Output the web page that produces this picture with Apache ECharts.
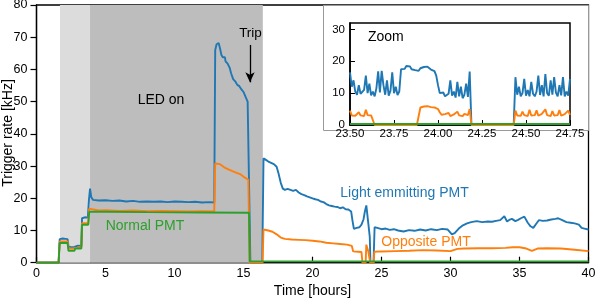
<!DOCTYPE html>
<html><head><meta charset="utf-8">
<script src="https://cdn.jsdelivr.net/npm/echarts@6/dist/echarts.min.js"></script>
<style>html,body{margin:0;padding:0;background:#fff}#c{width:596px;height:298px}</style>
</head><body><div id="c"></div>
<script>
// ---------- DATA ----------
// main panel: [time (hours), trigger rate (kHz)]
const lightPMT = [[0,0],[1.6,0],[1.68,7.3],[1.9,7.5],[2.1,7.4],[2.25,7.3],[2.32,5.0],[2.5,4.8],[2.75,4.9],[2.8,5.3],[3.0,5.3],[3.25,5.2],[3.3,13.8],[3.5,14.1],[3.72,14.0],[3.8,19.5],[3.88,23.0],[3.97,20.3],[4.1,19.5],[4.5,19.3],[5,19.4],[5.5,19.2],[6,19.3],[6.5,19.0],[7,19.2],[7.5,18.9],[8,19.0],[8.5,18.9],[9,19.0],[9.5,18.8],[10,19.0],[10.5,18.9],[11,18.8],[11.5,18.9],[12,18.7],[12.5,18.8],[12.88,18.7],[12.95,66.0],[13.05,67.8],[13.2,68.2],[13.3,66.5],[13.4,64.5],[13.5,63.8],[13.6,63.2],[13.65,63.8],[13.7,62.5],[13.85,61.8],[14.0,60.5],[14.1,58.8],[14.25,57.0],[14.4,56.3],[14.55,55.2],[14.7,54.8],[14.85,53.8],[15.0,53.0],[15.15,51.5],[15.3,50.0],[15.42,49.7],[15.5,0],[16.36,0],[16.45,32.4],[16.6,32.0],[16.8,31.4],[17.0,31.0],[17.2,30.6],[17.4,29.8],[17.55,27.5],[17.7,24.8],[17.85,23.0],[18.0,22.6],[18.2,22.9],[18.4,22.6],[18.6,22.3],[18.8,22.6],[19.0,21.8],[19.2,21.3],[19.4,21.0],[19.6,20.6],[19.8,20.3],[20.0,20.0],[20.2,19.7],[20.4,19.5],[20.6,19.0],[20.8,18.8],[21.0,18.2],[21.2,17.8],[21.4,17.6],[21.6,17.4],[21.8,17.3],[22.0,16.9],[22.2,17.2],[22.4,16.6],[22.6,16.5],[22.8,15.9],[22.9,13.0],[23.0,10.5],[23.2,10.8],[23.4,11.0],[23.55,11.8],[23.7,13.5],[23.8,16.0],[23.9,17.8],[23.95,17.5],[24.05,12.0],[24.15,8.0],[24.2,0],[24.42,0],[24.5,11.0],[24.7,10.8],[25.0,10.4],[25.3,10.6],[25.6,10.2],[25.9,10.4],[26.2,10.0],[26.6,9.7],[27.0,10.1],[27.4,9.9],[27.8,10.3],[28.2,10.0],[28.6,10.4],[29.0,10.1],[29.4,10.5],[29.8,10.3],[30.1,8.8],[30.3,9.2],[30.6,10.6],[30.9,11.6],[31.2,12.2],[31.5,12.6],[31.9,12.9],[32.3,12.6],[32.7,12.8],[33.0,12.7],[33.3,13.0],[33.6,13.2],[33.9,14.4],[34.1,12.8],[34.3,13.4],[34.45,13.6],[34.7,12.9],[34.9,13.3],[35.1,13.8],[35.35,14.3],[35.6,12.4],[35.8,11.3],[36.0,10.8],[36.2,12.0],[36.4,13.2],[36.7,13.0],[37.0,13.1],[37.3,13.4],[37.6,13.6],[37.8,13.8],[38.1,13.2],[38.4,12.6],[38.7,12.4],[39.0,12.2],[39.3,11.8],[39.5,10.8],[39.7,10.6],[40,10.3]];
const oppositePMT = [[0,0],[1.6,0],[1.68,6.6],[2.25,6.6],[2.32,4.4],[2.75,4.4],[2.8,4.9],[3.25,4.9],[3.3,12.3],[3.75,12.3],[3.82,16.8],[3.92,16.4],[4.5,16.2],[5,16.3],[6,16.1],[7,16.2],[8,16.0],[9,16.1],[10,16.0],[11,15.9],[12,16.0],[12.88,15.9],[12.95,30.8],[13.05,31.3],[13.3,30.6],[13.6,29.6],[13.9,29.0],[14.2,28.4],[14.5,27.9],[14.8,27.4],[15.1,26.4],[15.35,25.8],[15.4,25.6],[15.45,0],[16.38,0],[16.45,10.3],[16.8,10.0],[17.1,9.6],[17.4,8.8],[17.7,7.8],[18.0,7.4],[18.5,7.2],[19.0,7.1],[19.5,7.0],[20.0,6.8],[20.5,6.6],[21.0,6.2],[21.5,6.0],[22.0,5.8],[22.5,5.6],[22.85,5.2],[22.95,3.5],[23.3,3.4],[23.55,3.3],[23.62,0],[23.85,0],[23.9,5.6],[24.0,5.5],[24.05,3.4],[24.15,3.3],[24.18,0],[24.43,0],[24.48,3.4],[25,3.5],[26,3.6],[27,3.7],[28,3.9],[29,3.8],[30,3.6],[30.5,4.3],[31,4.4],[32,4.5],[33,4.5],[34,4.6],[34.5,4.8],[35,4.8],[35.5,4.4],[35.9,3.7],[36.3,4.4],[37,4.5],[38,4.4],[39,4.0],[40,3.6]];
const normalPMT = [[0,0],[1.6,0],[1.68,6.1],[2.25,6.1],[2.32,3.7],[2.75,3.7],[2.8,4.4],[3.25,4.4],[3.3,11.8],[3.75,11.8],[3.82,15.8],[5,15.8],[8,15.7],[12,15.6],[15.4,15.5],[15.45,0.4],[40,0.4]];
// LED on periods (hours)
const ledBands = [[1.70,3.88],[3.88,16.4]];
// inset: samples every 0.01 h starting at 23.50 h
const insetStart = 23.50, insetStep = 0.01;
const insetLight = [16.5,12.0,14.0,10.5,9.5,12.5,9.8,9.2,11.0,15.5,10.0,13.0,9.3,10.5,9.0,11.5,16.8,10.2,17.0,12.5,9.5,14.0,9.2,10.8,16.5,10.0,12.0,9.4,10.5,17.5,17.8,17.6,18.5,18.9,18.4,17.5,17.9,17.2,17.6,17.0,17.8,17.6,18.2,17.9,18.3,18.0,17.4,17.7,16.9,15.5,12.5,10.0,9.5,10.2,9.0,9.3,9.8,14.0,9.2,10.5,8.6,13.5,9.0,12.0,8.4,9.5,13.0,8.8,16.8,
 0,0,0,0,0,0,0,0,0,0,0,0,0,0,0,0,0,0,0,0,0,0,0,0,0,
 15.0,9.5,12.0,9.0,10.0,14.5,9.2,11.0,9.0,13.5,9.8,9.0,10.5,15.5,9.4,12.5,9.0,16.0,10.0,9.2,14.0,9.5,15.0,10.2,9.0,12.5,9.3,15.0,9.0,10.5,9.2,14.5];
const insetOpposite = [4.5,3.0,3.4,2.9,3.2,4.0,3.0,3.3,2.8,4.8,3.1,3.5,3.0,3.6,
 0,0,0,0,0,0,0,0,0,0,0,0,0,0,0,0,0,0,0,0,0,0,0,0,0,0,
 5.5,5.7,5.8,5.6,5.9,5.7,5.6,5.8,5.5,5.4,5.0,4.0,
 3.2,2.9,3.4,3.0,3.8,2.8,3.1,3.3,2.9,4.2,3.0,3.2,2.8,3.5,3.0,3.1,5.0,
 0,0,0,0,0,0,0,0,0,0,0,0,0,0,0,0,0,0,0,0,0,0,0,0,0,
 4.5,3.0,3.5,2.9,4.2,3.1,3.3,2.8,4.8,3.0,3.4,3.1,4.6,2.9,3.2,3.5,3.0,4.9,3.1,3.3,2.8,4.4,3.0,3.6,3.1,4.7,2.9,3.2,3.4,3.0,4.5,3.2];
const insetNormal = [[23.5,0.3],[24.75,0.3]];
// ---------- CHART ----------
const FONT = '"Liberation Sans", Arial, Helvetica, sans-serif';
const BLUE = '#1f77b4', ORANGE = '#ff7f0e', GREEN = '#2ca02c';
const toInset = arr => arr.map((v, i) => [+(insetStart + i * insetStep).toFixed(2), v]);

const chart = echarts.init(document.getElementById('c'));
const lineS = (name, data, color, xi, z) => ({
  name, type: 'line', data, xAxisIndex: xi, yAxisIndex: xi, showSymbol: false, symbol: 'none',
  lineStyle: { color, width: 1.9 }, z, silent: true, animation: false
});
chart.setOption({
  animation: false,
  textStyle: { fontFamily: FONT },
  grid: [
    { left: 36.5, right: 7.5, top: 5, bottom: 35.3, show: true, borderColor: '#000', borderWidth: 1.3, z: 0, containLabel: false, outerBoundsMode: 'none' },
    { left: 350, width: 220, top: 23, height: 102, show: true, borderColor: '#000', borderWidth: 1.5, backgroundColor: '#fff', z: 6, containLabel: false, outerBoundsMode: 'none' }
  ],
  xAxis: [
    { gridIndex: 0, type: 'value', min: 0, max: 40, interval: 5,
      axisLine: { lineStyle: { color: '#000', width: 1.3 } },
      axisTick: { inside: true, length: 6, lineStyle: { color: '#000', width: 1.2 } },
      axisLabel: { color: '#000', fontSize: 12.5, margin: 4, fontFamily: FONT },
      splitLine: { show: false },
      name: 'Time [hours]', nameLocation: 'middle', nameGap: 19,
      nameTextStyle: { fontSize: 14, color: '#000', fontFamily: FONT } },
    { gridIndex: 1, type: 'value', min: 23.5, max: 24.75, interval: 0.25, z: 7,
      axisLine: { lineStyle: { color: '#000', width: 1.5 } },
      axisTick: { inside: true, length: 5, lineStyle: { color: '#000', width: 1 } },
      axisLabel: { color: '#000', fontSize: 11.5, margin: 3, fontFamily: FONT, formatter: v => v.toFixed(2) },
      splitLine: { show: false } }
  ],
  yAxis: [
    { gridIndex: 0, type: 'value', min: 0, max: 80, interval: 10,
      axisLine: { show: true, lineStyle: { color: '#000', width: 1.3 } },
      axisTick: { show: true, inside: false, length: 6, lineStyle: { color: '#000', width: 1.2 } },
      axisLabel: { color: '#000', fontSize: 12.5, margin: 9, fontFamily: FONT },
      splitLine: { show: false } },
    { gridIndex: 1, type: 'value', min: 0, max: 32, interval: 10, z: 7,
      axisLine: { show: true, lineStyle: { color: '#000', width: 1.5 } },
      axisTick: { show: true, inside: true, length: 5, lineStyle: { color: '#000', width: 1 } },
      axisLabel: { color: '#000', fontSize: 11.5, margin: 5, fontFamily: FONT, showMaxLabel: false },
      splitLine: { show: false } }
  ],
  graphic: [
    { type: 'rect', z: 5, shape: { x: 323.5, y: 5.5, width: 265, height: 125 },
      style: { fill: '#fff', stroke: '#9a9a9a', lineWidth: 1 } },
    { type: 'text', z: 3, x: 8, y: 133, rotation: Math.PI / 2,
      style: { text: 'Trigger rate [kHz]', fill: '#000', fontSize: 14, fontFamily: FONT, textAlign: 'center', textVerticalAlign: 'middle' } },
    { type: 'text', z: 3, x: 161, y: 100, style: { text: 'LED on', fill: '#000', fontSize: 14, fontFamily: FONT, textAlign: 'center', textVerticalAlign: 'middle' } },
    { type: 'text', z: 3, x: 250.5, y: 33, style: { text: 'Trip', fill: '#000', fontSize: 13.5, fontFamily: FONT, textAlign: 'center', textVerticalAlign: 'middle' } },
    { type: 'text', z: 3, x: 145, y: 226, style: { text: 'Normal PMT', fill: GREEN, fontSize: 14, fontFamily: FONT, textAlign: 'center', textVerticalAlign: 'middle' } },
    { type: 'text', z: 3, x: 404.5, y: 193.3, style: { text: 'Light emmitting PMT', fill: BLUE, fontSize: 14, fontFamily: FONT, textAlign: 'center', textVerticalAlign: 'middle' } },
    { type: 'text', z: 3, x: 426, y: 241.7, style: { text: 'Opposite PMT', fill: ORANGE, fontSize: 14, fontFamily: FONT, textAlign: 'center', textVerticalAlign: 'middle' } },
    { type: 'text', z: 9, x: 368, y: 37, style: { text: 'Zoom', fill: '#000', fontSize: 14, fontFamily: FONT, textAlign: 'left', textVerticalAlign: 'middle' } }
  ],
  series: [
    { type: 'line', data: [], xAxisIndex: 0, yAxisIndex: 0, z: 1, silent: true,
      markArea: { silent: true, data: [
        [{ xAxis: ledBands[0][0], itemStyle: { color: '#dcdcdc' } }, { xAxis: ledBands[0][1] }],
        [{ xAxis: ledBands[1][0], itemStyle: { color: '#bdbdbd' } }, { xAxis: ledBands[1][1] }]
      ] } },
    { type: 'line', data: [], xAxisIndex: 0, yAxisIndex: 0, z: 3, silent: true,
      markLine: { silent: true, symbol: ['none', 'arrow'], symbolSize: [7, 10], label: { show: false },
        lineStyle: { color: '#000', width: 1.3, type: 'solid' },
        data: [[{ coord: [15.47, 67.6] }, { coord: [15.47, 56.0] }]] } },
    lineS('Light emmitting PMT', lightPMT, BLUE, 0, 2),
    lineS('Opposite PMT', oppositePMT, ORANGE, 0, 2),
    lineS('Normal PMT', normalPMT, GREEN, 0, 2),
    lineS('Light emmitting PMT (zoom)', toInset(insetLight), BLUE, 1, 8),
    lineS('Opposite PMT (zoom)', toInset(insetOpposite), ORANGE, 1, 8),
    lineS('Normal PMT (zoom)', insetNormal, GREEN, 1, 8)
  ]
});
</script>
</body></html>
